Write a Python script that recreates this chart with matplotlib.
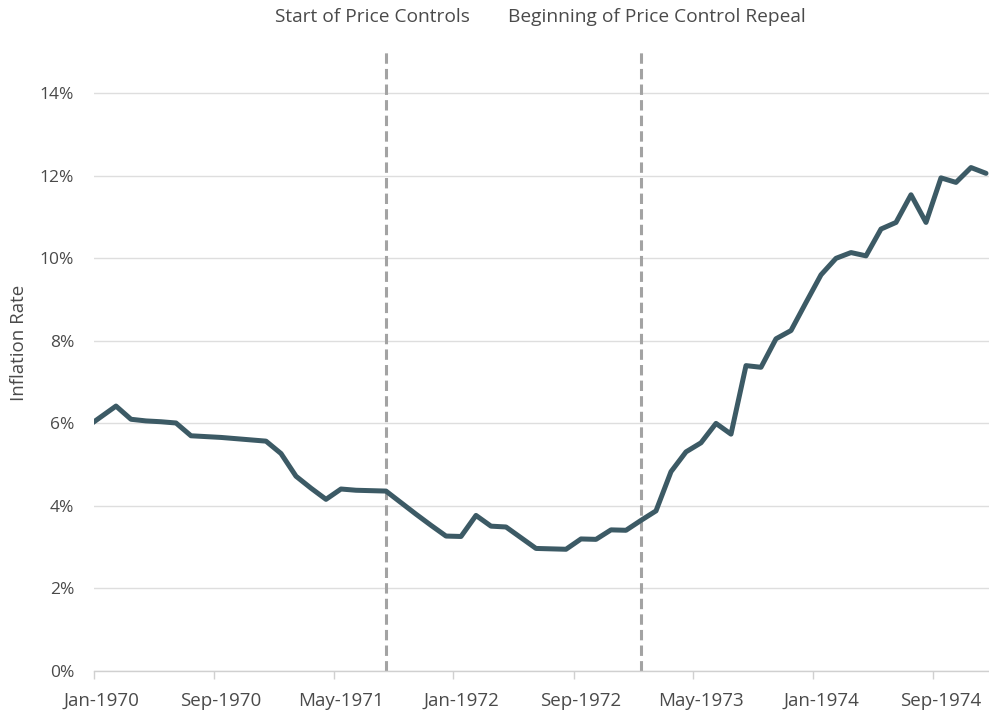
import matplotlib.pyplot as plt
import numpy as np

# Monthly year-over-year inflation (%), Dec-1969 .. Dec-1974
months = ['Dec-1969'] + [f'{m}-{y}' for y in range(1970, 1975)
                         for m in ['Jan', 'Feb', 'Mar', 'Apr', 'May', 'Jun',
                                   'Jul', 'Aug', 'Sep', 'Oct', 'Nov', 'Dec']]
inflation = [5.90,
             6.16, 6.42, 6.10, 6.06, 6.04, 6.01, 5.70, 5.68, 5.66, 5.63, 5.60, 5.57,
             5.27, 4.72, 4.43, 4.16, 4.41, 4.38, 4.37, 4.36, 4.08, 3.80, 3.53, 3.27,
             3.26, 3.77, 3.51, 3.49, 3.23, 2.97, 2.96, 2.95, 3.20, 3.19, 3.42, 3.41,
             3.65, 3.88, 4.83, 5.31, 5.53, 6.00, 5.74, 7.40, 7.36, 8.05, 8.25, 8.93,
             9.60, 10.00, 10.14, 10.06, 10.71, 10.87, 11.54, 10.87, 11.95, 11.84, 12.20, 12.06]

# events marked with dashed lines
events = ['Aug-1971', 'Jan-1973']
event_labels = ['Start of Price Controls', 'Beginning of Price Control Repeal']
event_offsets = [-10, 11.5]

tick_labels = ['Jan-1970', 'Sep-1970', 'May-1971', 'Jan-1972',
               'Sep-1972', 'May-1973', 'Jan-1974', 'Sep-1974']
y_ticks = [0, 2, 4, 6, 8, 10, 12, 14]

plt.rcParams['font.family'] = ['Open Sans', 'DejaVu Sans']
text_color = '#4a4a4a'

# month positions: Jan-1970 = 0
x = np.arange(len(months)) - 1
pos = {m: i - 1 for i, m in enumerate(months)}

fig = plt.figure(figsize=(9.89, 7.27), dpi=100)
ax = fig.add_axes([93.5 / 989, 1 - 671 / 727, 1 - 93.5 / 989, (671 - 52) / 727])

ax.plot(x, inflation, color='#3c5a65', lw=3.6, solid_joinstyle='round',
        solid_capstyle='round', zorder=3)

for ev, lab, off in zip(events, event_labels, event_offsets):
    ax.axvline(pos[ev], color='#a3a3a3', lw=2.2, linestyle=(0, (3.4, 1.7)), zorder=2)
    ax.annotate(lab, xy=(pos[ev], 1), xycoords=('data', 'axes fraction'),
                xytext=(off, 25), textcoords='offset points',
                ha='center', va='center', fontsize=13.8, color=text_color)

ax.set_xlim(-0.5, 59.2)
ax.set_ylim(0, 15)

# labels at category centres, tick marks at category boundaries
label_pos = [pos[t] for t in tick_labels]
ax.set_xticks(label_pos)
ax.set_xticklabels(tick_labels)
ax.set_xticks([p - 0.5 for p in label_pos], minor=True)
ax.tick_params(axis='x', which='major', length=0, pad=15, labelsize=13.5, labelcolor=text_color)
ax.tick_params(axis='x', which='minor', length=6, width=1, color='#d0d0d0')

ax.set_yticks(y_ticks)
ax.set_yticklabels([f'{v}%' for v in y_ticks])
ax.tick_params(axis='y', length=0, pad=14, labelsize=12.5, labelcolor=text_color)
ax.grid(axis='y', color='#dedede', lw=1)
ax.set_axisbelow(True)

for s in ['top', 'right', 'left']:
    ax.spines[s].set_visible(False)
ax.spines['bottom'].set_color('#d0d0d0')
ax.spines['bottom'].set_linewidth(1)

fig.text(19 / 989, 1 - 343 / 727, 'Inflation Rate', rotation=90,
         ha='center', va='center', fontsize=13.5, color=text_color)

fig.savefig('out.png', dpi=100)
